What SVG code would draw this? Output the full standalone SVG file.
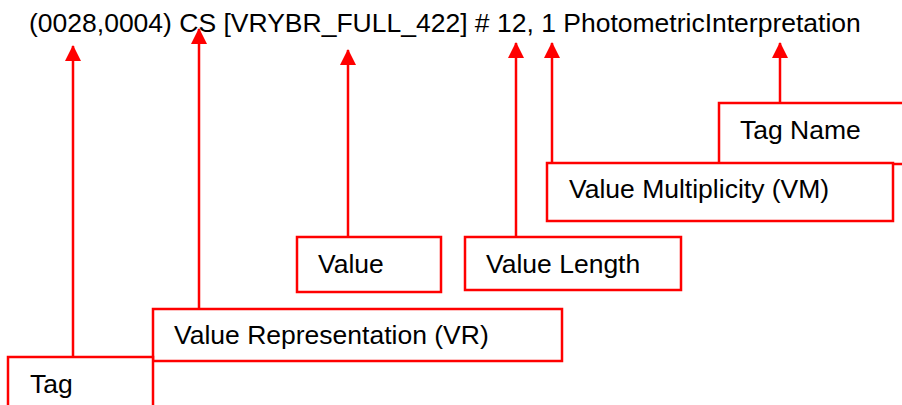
<svg xmlns="http://www.w3.org/2000/svg" width="902" height="405" viewBox="0 0 902 405">
<style>
.box{fill:#fff;stroke:#ff0000;stroke-width:2.5}
.lbl{font-family:"Liberation Sans",Arial,sans-serif;font-size:26.5px;fill:#000}
.con{stroke:#ff0000;stroke-width:2.5;fill:none}
</style>
<defs>
<marker id="ah" markerUnits="userSpaceOnUse" markerWidth="16" markerHeight="16" viewBox="0 0 16 16" refX="15" refY="8" orient="auto">
<path d="M0,0 L16,8 L0,16 z" fill="#ff0000"/>
</marker>
</defs>
<rect width="902" height="405" fill="#fff"/>
<text class="lbl" x="29" y="32">(0028,0004) CS [VRYBR_FULL_422] # 12, 1 PhotometricInterpretation</text>
<g id="connectors">
<path class="con" d="M73,357 V46" marker-end="url(#ah)"/>
<path class="con" d="M199,309 V29" marker-end="url(#ah)"/>
<path class="con" d="M348,237 V50" marker-end="url(#ah)"/>
<path class="con" d="M516,237 V43" marker-end="url(#ah)"/>
<path class="con" d="M552,163 V43" marker-end="url(#ah)"/>
<path class="con" d="M780,103 V43" marker-end="url(#ah)"/>
</g>
<g id="tagname"><rect class="box" x="719" y="103" width="190" height="61"/><text class="lbl" x="740" y="139">Tag Name</text></g>
<g id="vm"><rect class="box" x="547" y="163" width="346" height="58"/><text class="lbl" x="569" y="198">Value Multiplicity (VM)</text></g>
<g id="value"><rect class="box" x="297" y="237" width="144" height="55"/><text class="lbl" x="318" y="273">Value</text></g>
<g id="vl"><rect class="box" x="465" y="237" width="216" height="53"/><text class="lbl" x="486" y="273">Value Length</text></g>
<g id="vr"><rect class="box" x="153" y="309" width="409" height="52"/><text class="lbl" x="174" y="344">Value Representation (VR)</text></g>
<g id="tag"><rect class="box" x="8" y="357" width="145" height="60"/><text class="lbl" x="30" y="393">Tag</text></g>
</svg>
